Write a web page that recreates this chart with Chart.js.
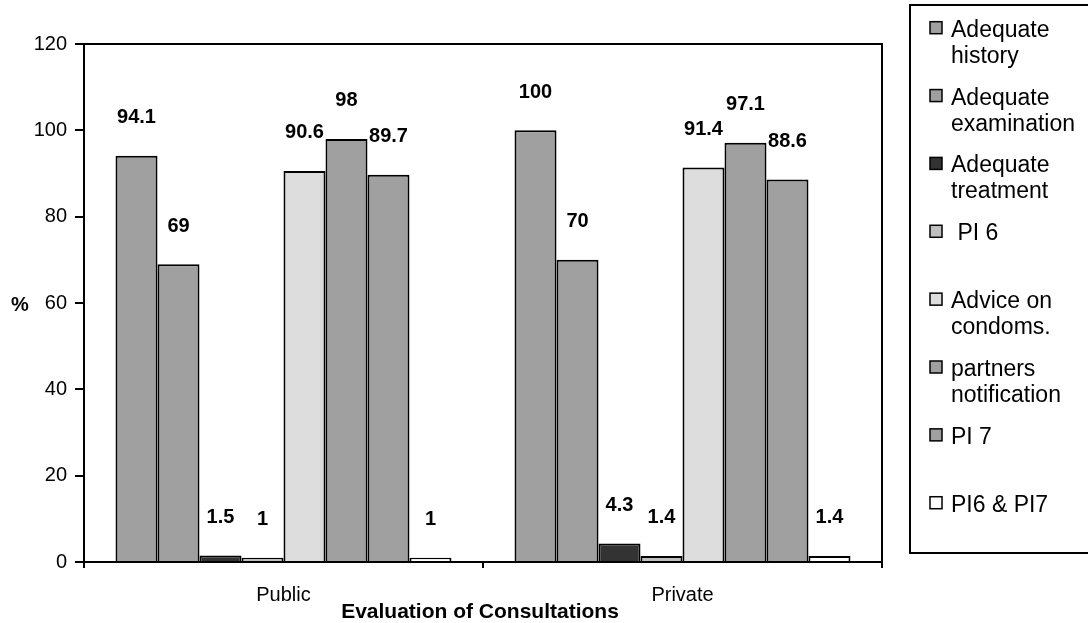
<!DOCTYPE html>
<html>
<head>
<meta charset="utf-8">
<script src="https://cdn.jsdelivr.net/npm/chart.js@4/dist/chart.umd.min.js"></script>
<style>
  html, body { margin: 0; padding: 0; background: #fff; }
  #wrap { width: 1088px; height: 623px; position: relative; }
</style>
</head>
<body>
<div id="wrap"><canvas id="c" width="1088" height="623"></canvas></div>
<script>
const categories = ['Public', 'Private'];
const seriesNames = [
  ['Adequate', 'history'],
  ['Adequate', 'examination'],
  ['Adequate', 'treatment'],
  [' PI 6'],
  ['Advice on', 'condoms.'],
  ['partners', 'notification'],
  ['PI 7'],
  ['PI6 & PI7']
];
const adequateHistory = [94.1, 100];
const adequateExamination = [69, 70];
const adequateTreatment = [1.5, 4.3];
const pi6 = [1, 1.4];
const adviceCondoms = [90.6, 91.4];
const partnersNotification = [98, 97.1];
const pi7 = [89.7, 88.6];
const pi6pi7 = [1, 1.4];
const yTicks = [0, 20, 40, 60, 80, 100, 120];

const seriesValues = [adequateHistory, adequateExamination, adequateTreatment, pi6,
  adviceCondoms, partnersNotification, pi7, pi6pi7];
const seriesColors = ['#A0A0A0', '#A0A0A0', '#333333', '#C0C0C0', '#DDDDDD', '#A0A0A0', '#A0A0A0', '#FFFFFF'];

const FONT = '"Liberation Sans", Arial, sans-serif';

const datasets = seriesValues.map((vals, i) => ({
  label: seriesNames[i].join(' ').trim(),
  data: vals,
  backgroundColor: seriesColors[i],
  borderColor: '#000',
  borderWidth: 2,
  categoryPercentage: 0.842,
  barPercentage: 1.0
}));

const decorPlugin = {
  id: 'decor',
  afterDatasetsDraw(chart) {
    const ctx = chart.ctx;
    const a = chart.chartArea;
    ctx.save();
    // plot frame (top & right)
    ctx.strokeStyle = '#000';
    ctx.lineWidth = 2;
    ctx.beginPath();
    ctx.moveTo(a.left, a.top);
    ctx.lineTo(a.right, a.top);
    ctx.lineTo(a.right, a.bottom);
    ctx.stroke();

    // data labels
    ctx.fillStyle = '#000';
    ctx.font = 'bold 20px ' + FONT;
    ctx.textAlign = 'center';
    ctx.textBaseline = 'middle';
    chart.data.datasets.forEach((ds, di) => {
      const meta = chart.getDatasetMeta(di);
      meta.data.forEach((bar, j) => {
        ctx.fillText(String(ds.data[j]), bar.x, bar.y - 38);
      });
    });

    // axis titles
    ctx.font = 'bold 20px ' + FONT;
    ctx.textBaseline = 'middle';
    ctx.fillText('%', 20, 305);
    ctx.font = 'bold 21px ' + FONT;
    ctx.textBaseline = 'alphabetic';
    ctx.fillText('Evaluation of Consultations', (a.left + a.right) / 2 - 3, 618);

    // legend
    ctx.lineWidth = 2;
    ctx.strokeRect(910, 5, 200, 548);
    ctx.font = '23px ' + FONT;
    ctx.textAlign = 'left';
    ctx.textBaseline = 'alphabetic';
    const step = 67.86;
    seriesNames.forEach((lines, i) => {
      const base = 36.7 + i * step;
      ctx.fillStyle = seriesColors[i];
      ctx.fillRect(930, base - 15, 12, 12);
      ctx.strokeStyle = '#000';
      ctx.lineWidth = 1.5;
      ctx.strokeRect(930, base - 15, 12, 12);
      ctx.fillStyle = '#000';
      lines.forEach((t, k) => {
        ctx.fillText(t, 951, base + k * 26);
      });
    });
    ctx.restore();
  }
};

new Chart(document.getElementById('c'), {
  type: 'bar',
  data: { labels: categories, datasets },
  options: {
    responsive: false,
    animation: false,
    layout: { padding: { left: 0, top: 44, right: 206, bottom: 0 } },
    plugins: { legend: { display: false }, tooltip: { enabled: false } },
    scales: {
      x: {
        afterFit(s) { s.height = 61; },
        grid: { display: true, drawOnChartArea: false, drawTicks: true, tickLength: 6, color: '#000', lineWidth: 2, offset: true },
        border: { display: true, color: '#000', width: 2 },
        ticks: { color: '#000', font: { family: FONT, size: 20 }, padding: 15 }
      },
      y: {
        min: 0, max: 120,
        afterFit(s) { s.width = 84; },
        afterBuildTicks(s) { s.ticks = yTicks.map(v => ({ value: v })); },
        grid: { display: true, drawOnChartArea: false, drawTicks: true, tickLength: 9, color: '#000', lineWidth: 2 },
        border: { display: true, color: '#000', width: 2 },
        ticks: { color: '#000', font: { family: FONT, size: 20 }, padding: 8 }
      }
    }
  },
  plugins: [decorPlugin]
});
</script>
</body>
</html>
